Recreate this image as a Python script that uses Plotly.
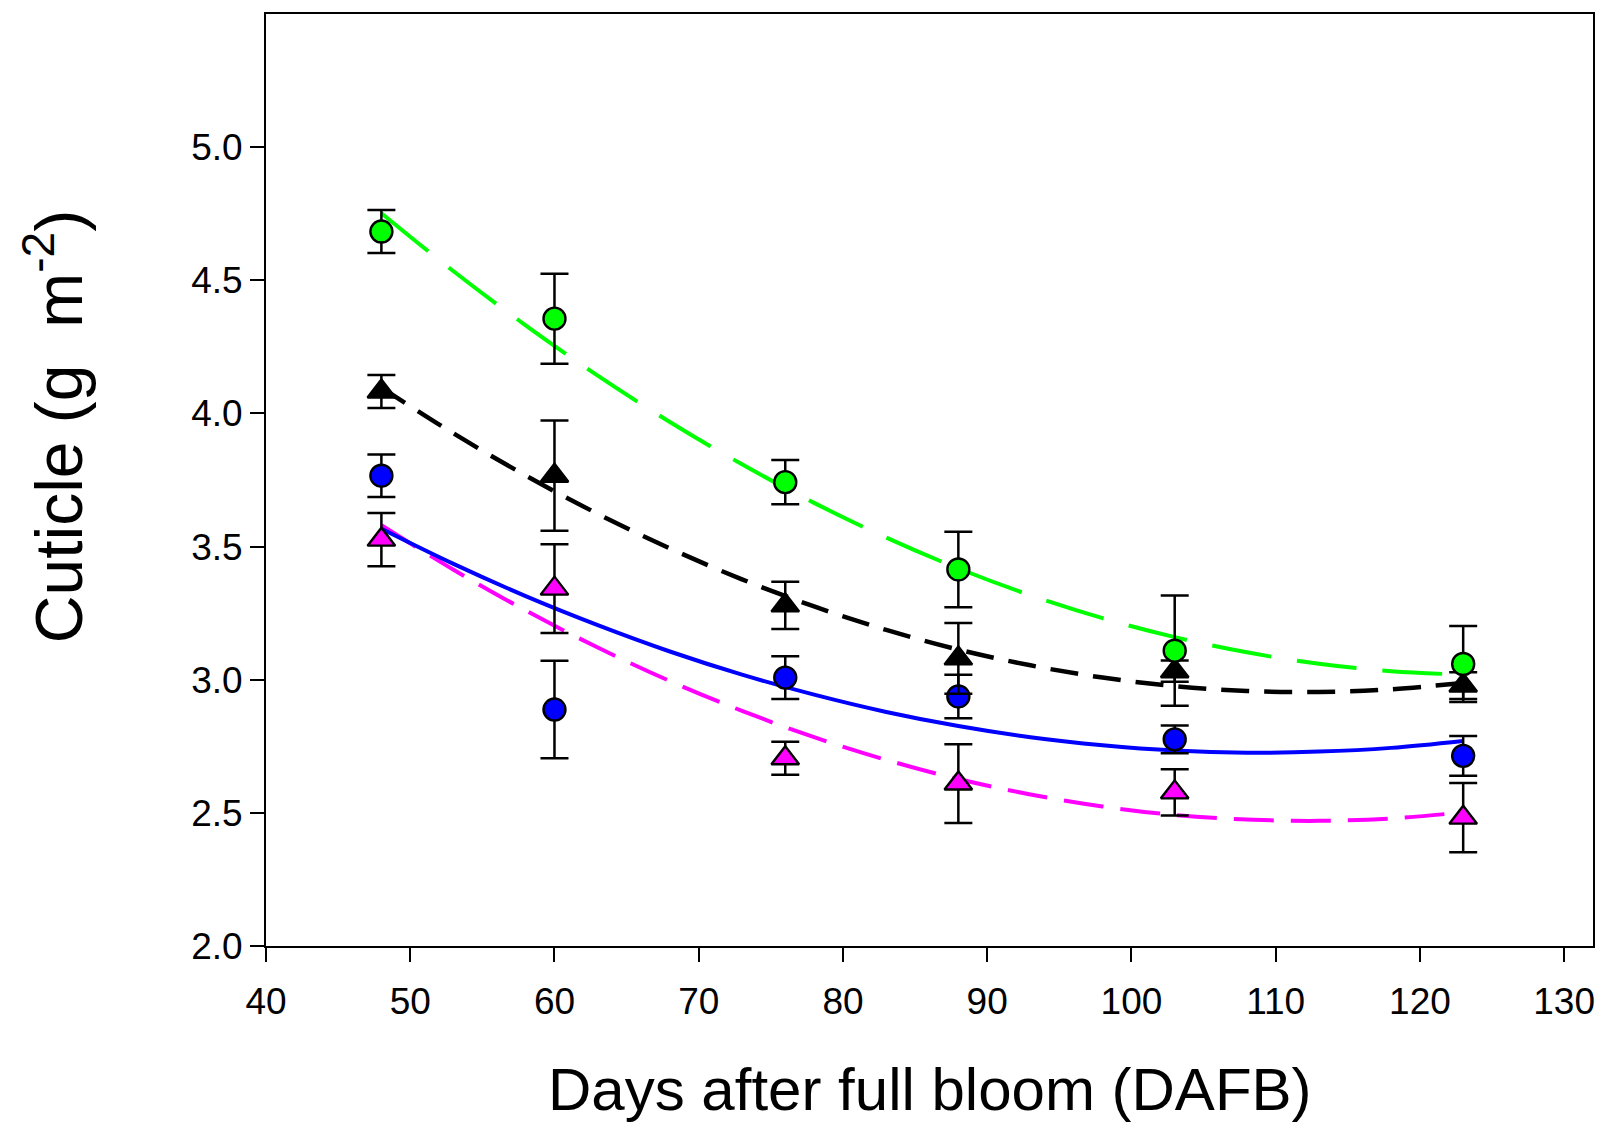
import plotly.graph_objects as go

# ---- data ----
days = [48, 60, 76, 88, 103, 123]

green_y = [4.683, 4.356, 3.742, 3.414, 3.109, 3.059]
green_err = [0.081, 0.169, 0.083, 0.142, 0.207, 0.143]
black_y = [4.082, 3.766, 3.279, 3.080, 3.032, 2.978]
black_err = [0.062, 0.207, 0.089, 0.133, 0.040, 0.050]
blue_y = [3.766, 2.888, 3.008, 2.937, 2.776, 2.714]
blue_err = [0.080, 0.183, 0.080, 0.082, 0.052, 0.075]
magenta_y = [3.526, 3.342, 2.705, 2.610, 2.577, 2.482]
magenta_err = [0.100, 0.167, 0.062, 0.148, 0.087, 0.130]

# fitted curves
fit_x = [48, 53, 58, 63, 68, 73, 78, 83, 88, 93, 98, 103, 108, 113, 118, 123]
green_fit = [4.752, 4.534, 4.331, 4.142, 3.968, 3.809, 3.664, 3.534, 3.418, 3.317, 3.231, 3.160, 3.103, 3.060, 3.032, 3.019]
black_fit = [4.097, 3.925, 3.767, 3.623, 3.493, 3.377, 3.275, 3.187, 3.113, 3.054, 3.008, 2.976, 2.958, 2.954, 2.964, 2.988]
blue_fit = [3.567, 3.435, 3.314, 3.205, 3.106, 3.019, 2.944, 2.879, 2.826, 2.784, 2.754, 2.734, 2.726, 2.730, 2.744, 2.770]
magenta_fit = [3.580, 3.413, 3.260, 3.121, 2.995, 2.883, 2.784, 2.699, 2.627, 2.569, 2.524, 2.492, 2.475, 2.470, 2.479, 2.502]

x_ticks = [40, 50, 60, 70, 80, 90, 100, 110, 120, 130]
y_ticks = [2.0, 2.5, 3.0, 3.5, 4.0, 4.5, 5.0]

FONT = "Liberation Sans, Arial, Helvetica, sans-serif"

fig = go.Figure()

# curves
curves = [
    (green_fit, "#00ff00", "60px,26px", 4),
    (black_fit, "#000000", "28px,15px", 4.5),
    (magenta_fit, "#ff00ff", "40px,17px", 4),
    (blue_fit, "#0000ff", "solid", 4),
]
for ys, col, dash, w in curves:
    fig.add_trace(go.Scatter(x=fit_x, y=ys, mode="lines",
                             line=dict(color=col, width=w, dash=dash, shape="spline", smoothing=1.0),
                             hoverinfo="skip", showlegend=False))

# points
points = [
    (magenta_y, magenta_err, "triangle-up", "#ff00ff"),
    (blue_y, blue_err, "circle", "#0000ff"),
    (black_y, black_err, "triangle-up", "#000000"),
    (green_y, green_err, "circle", "#00ff00"),
]
for ys, err, sym, col in points:
    fig.add_trace(go.Scatter(
        x=days, y=ys, mode="markers",
        marker=dict(symbol=sym, size=22 if sym == "circle" else 24, color=col,
                    line=dict(color="black", width=2.4)),
        error_y=dict(type="data", array=err, visible=True, color="black", thickness=2.5, width=14),
        showlegend=False))

fig.update_layout(
    width=1607, height=1122,
    margin=dict(l=266, r=12, t=12, b=176),
    plot_bgcolor="white", paper_bgcolor="white",
    font=dict(family=FONT, color="black"),
    showlegend=False,
)
fig.update_xaxes(range=[40, 132], tickvals=x_ticks, ticktext=[str(v) for v in x_ticks],
                 ticks="outside", ticklen=14, tickwidth=2, tickcolor="black",
                 showline=True, linewidth=2, linecolor="black", mirror=True,
                 showgrid=False, zeroline=False, tickfont=dict(size=37, family=FONT),
                 ticklabelstandoff=8)
fig.update_yaxes(range=[2.0, 5.5], tickvals=y_ticks, ticktext=[f"{v:.1f}" for v in y_ticks],
                 ticks="outside", ticklen=14, tickwidth=2, tickcolor="black",
                 showline=True, linewidth=2, linecolor="black", mirror=True,
                 showgrid=False, zeroline=False, tickfont=dict(size=37, family=FONT))

fig.add_annotation(text="Days after full bloom (DAFB)", xref="paper", yref="paper",
                   x=0.5, y=-0.154, xanchor="center", yanchor="middle", showarrow=False,
                   font=dict(size=60, family=FONT, color="black"))
fig.add_annotation(text="Cuticle (g&nbsp; m<sup>-2</sup>)", xref="paper", yref="paper",
                   x=-0.1595, y=0.557, xanchor="center", yanchor="middle", showarrow=False,
                   textangle=-90, font=dict(size=66, family=FONT, color="black"))

fig.write_html("out.html")
